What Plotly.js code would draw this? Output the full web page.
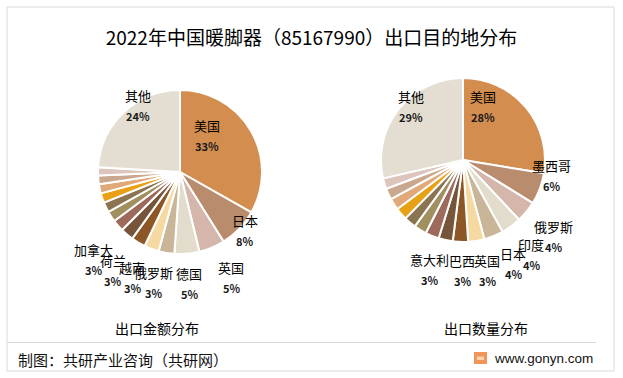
<!DOCTYPE html>
<html>
<head>
<meta charset="utf-8">
<script src="https://cdn.plot.ly/plotly-3.0.1.min.js"></script>
<style>
  html, body { margin: 0; padding: 0; background: #ffffff; }
  #chart { width: 623px; height: 378px; }
</style>
</head>
<body>
<div id="chart"></div>
<script>
// ---------- data ----------
const chartTitle = "2022年中国暖脚器（85167990）出口目的地分布";

// 出口金额分布 (value share, %)
const valueCountries = ["美国", "日本", "英国", "德国", "俄罗斯", "越南", "荷兰", "加拿大",
  "其他A1", "其他A2", "其他A3", "其他A4", "其他A5", "其他A6", "其他A7", "其他"];
const valueShares = [33.2, 7.9, 5.1, 4.9, 3.1, 2.9, 2.8, 2.6,
  2.3, 2.1, 2.0, 1.9, 1.8, 1.7, 1.6, 24.1];
const valueLabelled = ["美国", "日本", "英国", "德国", "俄罗斯", "越南", "荷兰", "加拿大", "其他"];

// 出口数量分布 (quantity share, %)
const qtyCountries = ["美国", "墨西哥", "俄罗斯", "印度", "日本", "英国", "巴西", "意大利",
  "其他B1", "其他B2", "其他B3", "其他B4", "其他B5", "其他B6", "其他B7", "其他"];
const qtyShares = [27.6, 6.2, 4.2, 4.0, 3.8, 3.2, 3.0, 2.8,
  2.7, 2.5, 2.4, 2.4, 2.3, 2.2, 2.1, 28.6];
const qtyLabelled = ["美国", "墨西哥", "俄罗斯", "印度", "日本", "英国", "巴西", "意大利", "其他"];

const subTitles = ["出口金额分布", "出口数量分布"];
const sourceText = "制图：共研产业咨询（共研网）";
const siteText = "www.gonyn.com";

// ---------- styles / layout ----------
const W = 623, H = 378;
const FONT = "Noto Sans CJK SC, Noto Sans, sans-serif";
const sliceColors = ["#D38D4F", "#B98C6E", "#D5B6AA", "#E1DCCB", "#C9B598", "#F6D9A1",
  "#8D5626", "#77553A", "#9D6A5C", "#A18F60", "#8B7452", "#E8A114", "#E1A979",
  "#CAA88E", "#DCC5BC", "#E3DED1"];

const pies = [
  { labels: valueCountries, values: valueShares, shown: valueLabelled, cx: 180, cy: 172, r: 82,
    // label placement: distance (in radii) and angular nudge (deg) from slice middle
    place: { "美国": [0.55, -23], "日本": [1.07, -1.5], "英国": [1.43, -3], "德国": [1.36, 0],
             "俄罗斯": [1.38, 3.8], "越南": [1.41, 4.0], "荷兰": [1.45, 3.8], "加拿大": [1.50, 4.6],
             "其他": [0.96, 11.3] } },
  { labels: qtyCountries, values: qtyShares, shown: qtyLabelled, cx: 463, cy: 160, r: 82,
    place: { "美国": [0.70, -29], "墨西哥": [1.10, -10.6], "俄罗斯": [1.44, 1], "印度": [1.42, 0.0],
             "日本": [1.40, -3.9], "英国": [1.38, -3.1], "巴西": [1.35, -1.3], "意大利": [1.39, 4.6],
             "其他": [0.91, 7.3] } }
];

const px = x => x / W;
const py = y => 1 - y / H;

const traces = [];
const annotations = [];

pies.forEach(p => {
  traces.push({
    type: "pie",
    labels: p.labels,
    values: p.values,
    sort: false,
    direction: "clockwise",
    rotation: 0,
    textinfo: "none",
    hoverinfo: "label+percent",
    showlegend: false,
    marker: { colors: sliceColors, line: { color: "#ffffff", width: 2 } },
    domain: { x: [px(p.cx - p.r), px(p.cx + p.r)], y: [py(p.cy + p.r), py(p.cy - p.r)] }
  });
  const total = p.values.reduce((a, b) => a + b, 0);
  let cum = 0;
  p.values.forEach((v, i) => {
    const name = p.labels[i];
    const mid = (cum + v / 2) / total * 360;
    cum += v;
    if (!p.shown.includes(name)) return;
    const [k, dth] = p.place[name];
    const a = (mid + dth) * Math.PI / 180;
    const x = p.cx + k * p.r * Math.sin(a);
    const y = p.cy - k * p.r * Math.cos(a);
    const pct = Math.round(v / total * 100) + "%";
    annotations.push({ xref: "paper", yref: "paper", x: px(x), y: py(y - 10), text: name,
      showarrow: false, xanchor: "center", yanchor: "middle", borderpad: 0,
      font: { family: FONT, size: 13, color: "#000000" } });
    annotations.push({ xref: "paper", yref: "paper", x: px(x), y: py(y + 10.5), text: "<b>" + pct + "</b>",
      showarrow: false, xanchor: "center", yanchor: "middle", borderpad: 0,
      font: { family: FONT, size: 11, color: "#1a1a1a" } });
  });
});

annotations.push({ xref: "paper", yref: "paper", x: px(157), y: py(328), text: subTitles[0],
  showarrow: false, xanchor: "center", yanchor: "middle", font: { family: FONT, size: 14, color: "#000" } });
annotations.push({ xref: "paper", yref: "paper", x: px(486), y: py(328), text: subTitles[1],
  showarrow: false, xanchor: "center", yanchor: "middle", font: { family: FONT, size: 14, color: "#000" } });
annotations.push({ xref: "paper", yref: "paper", x: px(16), y: py(359), text: sourceText,
  showarrow: false, xanchor: "left", yanchor: "middle", font: { family: FONT, size: 15, color: "#111" } });
annotations.push({ xref: "paper", yref: "paper", x: px(492), y: py(358), text: siteText,
  showarrow: false, xanchor: "left", yanchor: "middle", font: { family: "Liberation Sans, Arial, sans-serif", size: 13.5, color: "#111" } });

const shapes = [
  { type: "rect", xref: "paper", yref: "paper", x0: px(7), x1: px(614), y0: py(371), y1: py(7),
    line: { color: "#D9D9D9", width: 1 }, fillcolor: "rgba(0,0,0,0)" },
  { type: "line", xref: "paper", yref: "paper", x0: px(7), x1: px(596), y0: py(342.5), y1: py(342.5),
    line: { color: "#D9D9D9", width: 1 } },
  { type: "rect", xref: "paper", yref: "paper", x0: px(474), x1: px(487), y0: py(364), y1: py(352),
    line: { width: 0 }, fillcolor: "#F0955A" },
  { type: "rect", xref: "paper", yref: "paper", x0: px(477), x1: px(484), y0: py(360), y1: py(356.5),
    line: { width: 0 }, fillcolor: "#FBD3B0" }
];

const layout = {
  width: W, height: H,
  margin: { l: 0, r: 0, t: 0, b: 0 },
  paper_bgcolor: "#ffffff",
  title: { text: chartTitle, x: 0.5, xanchor: "center", y: py(38), yanchor: "middle", yref: "paper",
    font: { family: FONT, size: 19, color: "#000000" } },
  annotations: annotations,
  shapes: shapes
};

Plotly.newPlot("chart", traces, layout, { staticPlot: true, displayModeBar: false });
</script>
</body>
</html>
